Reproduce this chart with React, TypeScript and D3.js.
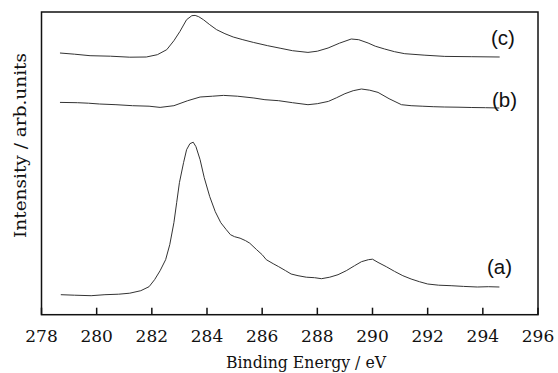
import React from "react";
import * as d3 from "d3";

// Binding energy (eV) and intensity (arb. units) for each spectrum
const energyA = [278.7, 279.2, 279.8, 280.3, 280.8, 281.2, 281.6, 281.9, 282.1, 282.3, 282.5, 282.65, 282.8, 282.9, 283.0, 283.15, 283.26, 283.38, 283.5, 283.6, 283.75, 283.9, 284.1, 284.3, 284.5, 284.7, 284.85, 285.0, 285.2, 285.4, 285.55, 285.8, 286.0, 286.15, 286.4, 286.6, 286.85, 287.05, 287.3, 287.6, 287.9, 288.15, 288.45, 288.75, 289.05, 289.35, 289.6, 289.85, 290.0, 290.2, 290.5, 290.8, 291.1, 291.4, 291.7, 292.0, 292.4, 292.85, 293.3, 293.8, 294.2, 294.6];
const intensityA = [20, 19.5, 19, 20, 20.5, 21.5, 24, 28, 35, 44, 55, 70, 92, 112, 132, 152, 165, 171, 172.5, 168, 155, 137, 118, 103, 92, 85, 80, 78, 76.5, 74, 71.5, 65, 60, 55, 51, 48, 44, 40.7, 39, 37.5, 37, 36, 37.5, 40, 44, 49, 53, 55, 55.5, 52.3, 48, 43.3, 39, 35.7, 33, 30.7, 29.5, 29, 28.3, 27.7, 28, 27.7];

const energyB = [278.67, 279.3, 279.7, 280.1, 280.7, 281.3, 281.9, 282.3, 282.8, 283.3, 283.75, 284.2, 284.6, 285.1, 285.7, 286.1, 286.6, 287.1, 287.66, 288.0, 288.4, 288.7, 289.0, 289.3, 289.6, 289.9, 290.2, 290.6, 291.05, 291.4, 291.8, 292.2, 292.6, 293.1, 293.6, 294.1, 294.6];
const intensityB = [212.3, 212, 211.5, 210.7, 210, 209, 208.5, 207.3, 209, 214, 217.7, 218.5, 219.3, 218.5, 216.7, 215, 214, 212, 210, 211, 213.3, 217, 221, 224, 225.7, 224.5, 222.3, 216, 210, 209, 208.5, 208, 207.7, 207.5, 207.2, 207, 206.7];

const energyC = [278.67, 279.2, 279.76, 280.5, 281.2, 281.8, 282.2, 282.54, 282.8, 283.02, 283.26, 283.45, 283.57, 283.7, 283.87, 284.1, 284.35, 284.65, 284.95, 285.3, 285.68, 286.2, 286.65, 287.1, 287.66, 288.0, 288.39, 288.8, 289.23, 289.5, 289.84, 290.1, 290.44, 290.8, 291.17, 291.9, 292.62, 293.6, 294.61];
const intensityC = [261.7, 260.5, 259, 258.5, 257.5, 257.7, 260, 265, 274, 283.3, 295, 299, 299.3, 298, 295, 290, 285, 281, 277.7, 275, 272.3, 269, 266.5, 264, 262.3, 263.5, 266.7, 271.5, 275.7, 275, 271.7, 268.5, 265.7, 263, 261, 259.5, 258.3, 258, 257.7];

const seriesLabels = ["(a)", "(b)", "(c)"];
const xTicks = [278, 280, 282, 284, 286, 288, 290, 292, 294, 296];
const xDomain = [278, 296];
const yDomain = [0, 302.7];

const W = 558;
const H = 373;
const M = { left: 41.5, right: 20, top: 12, bottom: 58.3 };

export default function App() {
  const x = d3.scaleLinear().domain(xDomain).range([M.left, W - M.right]);
  const y = d3.scaleLinear().domain(yDomain).range([H - M.bottom, M.top]);
  const line = d3
    .line<[number, number]>()
    .x((d) => x(d[0]))
    .y((d) => y(d[1]))
    .curve(d3.curveLinear);

  const series = [
    { e: energyA, v: intensityA },
    { e: energyB, v: intensityB },
    { e: energyC, v: intensityC },
  ];
  const labelPos = [
    { x: 487, y: 274 },
    { x: 492, y: 107 },
    { x: 491, y: 45 },
  ];

  const x0 = M.left;
  const x1 = W - M.right;
  const y0 = M.top;
  const y1 = H - M.bottom;

  return (
    <svg
      width={W}
      height={H}
      style={{ position: "absolute", left: 0, top: 0, background: "#fff" }}
    >
      {series.map((s, i) => (
        <path
          key={i}
          d={line(s.e.map((e, j) => [e, s.v[j]] as [number, number])) || ""}
          fill="none"
          stroke="#333"
          strokeWidth={1}
        />
      ))}
      {seriesLabels.map((t, i) => (
        <text
          key={t}
          x={labelPos[i].x}
          y={labelPos[i].y}
          fontFamily="'Liberation Sans', Arial, sans-serif"
          fontSize={20.5}
          fill="#111"
        >
          {t}
        </text>
      ))}
      <rect
        x={x0}
        y={y0}
        width={x1 - x0}
        height={y1 - y0}
        fill="none"
        stroke="#111"
        strokeWidth={1.5}
      />
      {xTicks.map((t) => (
        <g key={t}>
          <line x1={x(t)} x2={x(t)} y1={y1} y2={y1 - 7} stroke="#111" strokeWidth={1.5} />
          <text
            x={x(t)}
            y={341.5}
            textAnchor="middle"
            fontFamily="'DejaVu Serif', serif"
            fontSize={17}
            fill="#111"
          >
            {t}
          </text>
        </g>
      ))}
      <text
        x={306}
        y={368}
        textAnchor="middle"
        fontFamily="'DejaVu Serif', serif"
        fontSize={16}
        fill="#111"
        textLength={160}
        lengthAdjust="spacingAndGlyphs"
      >
        Binding Energy / eV
      </text>
      <text
        transform={`translate(26,${145.5}) rotate(-90)`}
        textAnchor="middle"
        fontFamily="'DejaVu Serif', serif"
        fontSize={17}
        fill="#111"
        textLength={185}
        lengthAdjust="spacingAndGlyphs"
      >
        Intensity / arb.units
      </text>
    </svg>
  );
}
